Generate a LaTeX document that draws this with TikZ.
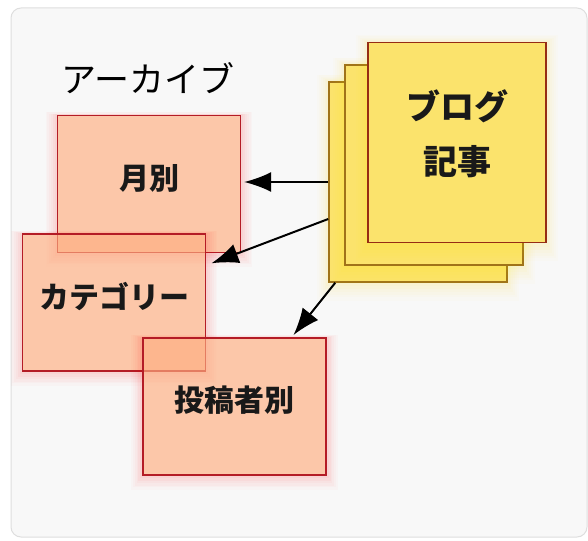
\documentclass[tikz,border=0pt]{standalone}
\usepackage{fontspec}
\setmainfont{Noto Sans CJK JP}
\usetikzlibrary{arrows.meta,shadows}

\definecolor{peach}{RGB}{255,192,142}
\definecolor{boxred}{RGB}{180,28,38}
\definecolor{paper}{RGB}{251,227,108}
\definecolor{paperedge}{RGB}{160,115,25}
\definecolor{frontedge}{RGB}{150,45,20}
\definecolor{framegray}{RGB}{222,222,222}
\definecolor{framefill}{RGB}{248,248,248}

\tikzset{
  glow/.style={
    general shadow={shadow scale=1.13, shadow yshift=-5pt, fill=#1, opacity=0.02},
    general shadow={shadow scale=1.11, shadow yshift=-4pt, fill=#1, opacity=0.02},
    general shadow={shadow scale=1.09, shadow yshift=-4pt, fill=#1, opacity=0.025},
    general shadow={shadow scale=1.07, shadow yshift=-3pt, fill=#1, opacity=0.025},
    general shadow={shadow scale=1.05, shadow yshift=-2pt, fill=#1, opacity=0.03},
    general shadow={shadow scale=1.03, shadow yshift=-1pt, fill=#1, opacity=0.03}},
  archbox/.style={draw=boxred, line width=1.3pt, fill=peach, fill opacity=0.6,
    text opacity=1, minimum width=183pt, minimum height=137pt, inner sep=0pt, glow=red},
  boxlabel/.style={font=\fontsize{30}{36}\selectfont\bfseries, text=black!90, yshift=6pt},
  postlabel/.style={font=\fontsize{34}{55}\selectfont\bfseries, text=black!90,
    align=center, yshift=9pt},
  sheet/.style={draw=paperedge, line width=1.5pt, fill=paper, minimum width=178pt,
    minimum height=200pt, inner sep=0pt, glow=yellow},
  link/.style={-{Latex[length=27pt,width=20pt]}, line width=2pt, shorten >=3pt}
}

\begin{document}
\begin{tikzpicture}[x=1pt, y=-1pt]
  \useasboundingbox (0,0) rectangle (588,540);
  \draw[framegray, fill=framefill, rounded corners=10pt, line width=1pt] (11,8) rectangle (587,537);
  \node[font=\fontsize{35}{40}\selectfont, text=black] (title) at (148,78) {アーカイブ};
  % archive boxes
  \node[archbox, label={[boxlabel]center:月別}] (month) at (149,184) {};
  \node[archbox, label={[boxlabel]center:カテゴリー}] (category) at (114,302.5) {};
  \node[archbox, label={[boxlabel]center:投稿者別}] (author) at (234.5,406.5) {};
  % blog posts, back to front
  \node[sheet] (post3) at (418,182) {};
  \node[sheet] (post2) at (434,165) {};
  \node[sheet, draw=frontedge, label={[postlabel]center:ブログ\\記事}] (post1) at (457,142.5) {};
  % links
  \draw[link] (post3.west) -- (post3.west -| month.east);
  \draw[link] ([yshift=-37pt]post3.west) -- ([xshift=2.5pt,yshift=-31pt]category.north east);
  \draw[link] ([xshift=7pt]post3.south west) -- ([xshift=-35pt]author.north east);
\end{tikzpicture}
\end{document}
